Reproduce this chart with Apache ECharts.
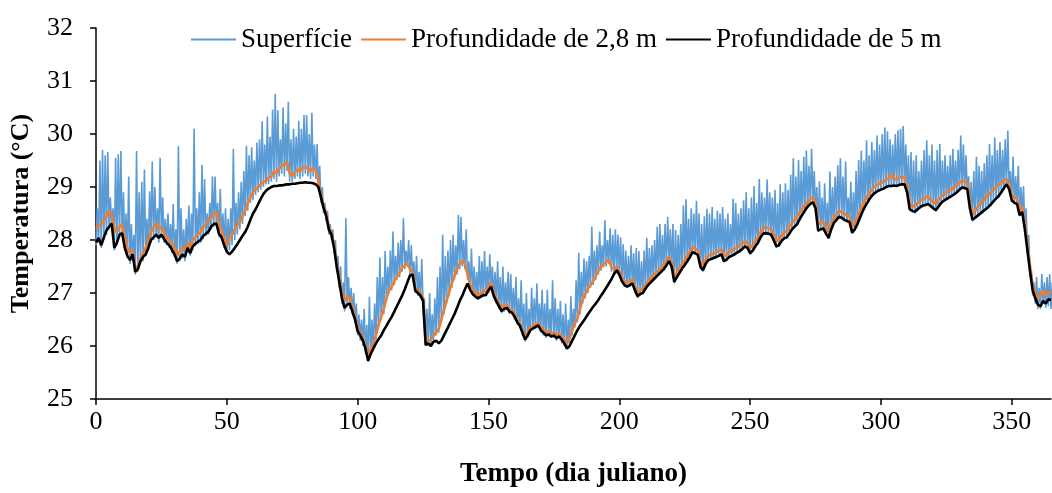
<!DOCTYPE html>
<html>
<head>
<meta charset="utf-8">
<script src="https://cdn.jsdelivr.net/npm/echarts@6/dist/echarts.min.js"></script>
<style>
html,body{margin:0;padding:0;background:#fff;}
#chart{width:1052px;height:493px;}
</style>
</head>
<body>
<div id="chart"></div>
<script>
// Julian day 0..365
const seriesNames = ['Superfície', 'Profundidade de 2,8 m', 'Profundidade de 5 m'];
const xTicks = [0, 50, 100, 150, 200, 250, 300, 350];

// Surface: daily low and daily high (spikes)
const surfaceLow = [
27.9,27.95,27.85,28.0,28.1,28.2,28.25,27.8,27.9,28.05,
28.05,27.8,27.65,27.55,27.65,27.35,27.4,27.55,27.6,27.7,
27.8,27.95,28.0,28.05,27.95,28.05,27.95,27.9,27.85,27.75,
27.68,27.55,27.6,27.65,27.6,27.8,27.7,27.82,27.88,27.92,
27.95,28.02,28.08,28.1,28.2,28.25,28.27,28.05,28.0,27.85,
27.75,27.8,27.9,28.0,28.1,28.2,28.3,28.45,28.55,28.7,
28.75,28.85,28.9,28.95,29.0,29.05,29.05,29.1,29.15,29.1,
29.2,29.25,29.2,29.3,29.1,29.1,29.15,29.2,29.15,29.2,
29.25,29.2,29.15,29.2,29.15,28.95,28.7,28.5,28.35,28.1,
28.0,27.75,27.4,27.1,26.8,26.65,26.75,26.7,26.6,26.45,
26.2,26.1,26.0,25.85,25.7,25.85,25.95,26.1,26.35,26.5,
26.6,26.85,27.0,27.05,27.15,27.25,27.3,27.4,27.45,27.5,
27.35,27.3,27.0,26.95,26.9,26.8,26.0,26.0,26.0,26.1,
26.2,26.25,26.45,26.6,26.8,26.95,27.1,27.25,27.35,27.45,
27.5,27.45,27.25,27.05,26.95,26.9,26.88,26.9,26.92,26.95,
27.0,27.1,26.9,26.8,26.7,26.62,26.65,26.68,26.6,26.6,
26.5,26.4,26.35,26.2,26.08,26.15,26.25,26.3,26.32,26.35,
26.25,26.2,26.15,26.18,26.15,26.15,26.1,26.15,26.05,26.0,
25.95,26.05,26.2,26.35,26.45,26.6,26.8,26.9,27.0,27.1,
27.15,27.25,27.35,27.42,27.48,27.5,27.55,27.4,27.38,27.42,
27.35,27.2,27.12,27.1,27.12,27.15,27.0,26.9,26.95,27.0,
27.05,27.12,27.18,27.22,27.28,27.32,27.38,27.42,27.5,27.58,
27.45,27.18,27.28,27.35,27.42,27.5,27.58,27.65,27.72,27.72,
27.68,27.45,27.4,27.5,27.6,27.62,27.63,27.65,27.68,27.7,
27.58,27.6,27.65,27.68,27.7,27.73,27.76,27.8,27.85,27.82,
27.72,27.78,27.85,27.92,28.02,28.1,28.1,28.1,28.08,27.98,
27.85,27.88,27.95,28.0,28.03,28.1,28.18,28.22,28.28,28.38,
28.45,28.52,28.6,28.65,28.68,28.55,28.15,28.18,28.2,28.1,
28.02,28.18,28.3,28.35,28.42,28.4,28.35,28.33,28.32,28.12,
28.18,28.28,28.4,28.52,28.62,28.7,28.78,28.84,28.88,28.92,
28.94,28.95,28.98,29.0,29.0,29.0,29.0,29.02,29.03,29.03,
28.88,28.55,28.52,28.5,28.55,28.6,28.62,28.64,28.66,28.62,
28.58,28.54,28.6,28.68,28.72,28.75,28.78,28.8,28.84,28.88,
28.92,28.96,28.95,28.94,28.58,28.35,28.4,28.44,28.48,28.52,
28.56,28.6,28.65,28.7,28.76,28.8,28.88,28.95,29.02,28.94,
28.72,28.68,28.65,28.45,28.5,28.15,27.75,27.3,26.95,26.8,
26.7,26.7,26.8,26.72,26.75,26.7
];
const surfaceHigh = [
28.6,29.5,29.7,29.6,29.66,28.8,28.6,29.55,29.62,29.68,
28.9,28.5,29.2,28.3,28.1,29.68,28.9,29.1,29.33,28.4,
28.92,29.48,29.0,28.6,29.55,28.8,28.4,28.5,28.3,28.68,
28.2,29.77,28.6,28.2,28.4,28.65,28.5,30.1,28.6,28.9,
29.42,29.15,28.5,28.7,29.2,29.2,28.7,28.96,28.5,28.6,
28.4,28.6,29.72,28.7,28.9,29.1,29.3,29.78,29.6,29.75,
29.5,29.84,29.9,30.24,29.8,30.33,29.95,30.46,30.76,30.45,
29.9,30.5,30.2,30.61,29.9,30.1,29.95,30.25,30.1,30.36,
30.36,30.0,30.4,29.8,29.81,29.4,29.0,28.7,28.55,28.3,
28.2,28.0,27.7,27.5,27.2,28.41,27.3,27.1,27.0,26.8,
26.6,26.5,26.7,26.4,26.93,26.5,26.8,27.3,27.67,27.3,
27.79,27.5,27.8,28.16,27.7,27.95,28.0,28.41,27.8,28.0,
27.9,27.6,27.7,27.4,27.64,26.9,26.7,27.0,26.6,26.9,
27.3,27.5,28.1,27.7,27.8,28.0,28.1,27.9,28.47,28.44,
28.0,28.2,27.6,27.84,27.5,27.4,27.7,27.6,27.79,27.5,
27.73,27.5,27.4,27.6,27.3,27.5,27.2,27.4,27.36,27.1,
27.3,26.9,27.24,26.8,27.0,26.7,27.1,26.9,27.18,26.8,
27.06,26.8,27.06,26.7,27.24,26.9,26.7,26.85,26.6,26.8,
26.5,26.94,26.7,27.24,27.76,27.4,27.65,27.6,27.7,28.25,
27.8,27.9,28.16,27.9,28.37,28.0,28.22,28.1,28.2,28.1,
28.05,27.92,27.8,27.7,27.9,27.75,27.85,27.79,27.6,27.8,
28.04,27.85,27.9,28.0,28.25,28.3,28.1,28.3,28.44,28.2,
28.3,28.19,28.1,28.3,28.65,28.77,28.4,28.6,28.5,28.74,
28.5,28.3,28.45,28.59,28.5,28.62,28.4,28.55,28.5,28.62,
28.4,28.5,28.3,28.78,28.7,28.5,28.6,28.75,28.9,28.6,
28.8,29.02,28.7,29.15,28.9,28.8,29.14,28.9,28.8,28.95,
28.7,29.05,28.9,29.07,28.95,29.23,29.54,29.2,29.51,29.3,
29.57,29.69,29.4,29.72,29.3,29.0,29.11,28.8,29.07,28.7,
29.29,29.0,29.2,29.41,29.54,29.2,29.48,28.8,29.1,28.9,
29.3,29.51,29.69,29.5,29.88,29.6,29.85,29.7,29.97,29.8,
30.0,30.12,30.05,29.9,29.8,30.0,30.07,30.1,30.15,29.8,
29.6,29.66,29.5,29.6,29.3,29.5,29.7,29.88,29.6,29.8,
29.5,29.7,29.81,29.5,29.6,29.4,29.6,29.72,29.5,29.7,
29.97,29.8,29.6,29.2,29.1,29.3,29.57,29.4,29.3,29.45,
29.6,29.81,29.6,29.94,29.7,29.85,29.7,29.9,30.06,29.3,
29.57,29.2,29.4,29.0,29.02,28.6,28.1,27.43,27.2,27.3,
27.1,27.36,27.2,27.3,27.36,27.2
];
// Depth 2.8 m
const depth28 = [
28.2,28.25,28.3,28.35,28.45,28.55,28.48,28.2,28.15,28.25,
28.3,28.05,27.85,27.75,27.8,27.5,27.45,27.65,27.75,27.85,
28.0,28.15,28.25,28.32,28.2,28.25,28.15,28.05,28.0,27.95,
27.85,27.7,27.78,27.85,27.8,27.95,27.85,28.0,28.05,28.1,
28.15,28.25,28.3,28.35,28.42,28.5,28.52,28.3,28.2,28.0,
27.9,28.05,28.1,28.2,28.28,28.35,28.45,28.55,28.7,28.8,
28.9,28.95,29.0,29.05,29.1,29.12,29.18,29.2,29.3,29.25,
29.35,29.4,29.42,29.48,29.25,29.2,29.28,29.33,29.3,29.36,
29.38,29.35,29.3,29.36,29.32,29.1,28.85,28.65,28.5,28.25,
28.12,27.9,27.55,27.3,27.0,26.85,26.95,26.9,26.72,26.55,
26.35,26.25,26.15,26.0,25.8,25.95,26.05,26.2,26.4,26.55,
26.7,26.9,27.05,27.12,27.22,27.3,27.38,27.48,27.52,27.56,
27.45,27.4,27.1,27.05,27.0,26.9,26.08,26.1,26.12,26.2,
26.25,26.32,26.5,26.68,26.85,27.02,27.18,27.32,27.45,27.55,
27.61,27.55,27.35,27.15,27.08,27.0,26.96,27.0,27.02,27.05,
27.12,27.2,27.0,26.9,26.8,26.72,26.76,26.78,26.7,26.68,
26.6,26.5,26.42,26.3,26.18,26.25,26.35,26.38,26.4,26.44,
26.36,26.3,26.25,26.28,26.24,26.25,26.2,26.24,26.18,26.12,
26.05,26.15,26.3,26.42,26.52,26.7,26.87,26.98,27.08,27.15,
27.22,27.32,27.42,27.5,27.55,27.58,27.63,27.48,27.45,27.5,
27.42,27.3,27.22,27.2,27.22,27.26,27.12,27.0,27.05,27.08,
27.15,27.22,27.28,27.33,27.38,27.42,27.48,27.53,27.6,27.68,
27.58,27.3,27.38,27.46,27.55,27.62,27.7,27.78,27.86,27.84,
27.8,27.58,27.52,27.63,27.7,27.72,27.75,27.77,27.8,27.83,
27.7,27.72,27.77,27.8,27.83,27.86,27.9,27.93,27.98,27.94,
27.85,27.9,27.98,28.05,28.15,28.22,28.25,28.22,28.2,28.1,
27.98,28.0,28.08,28.13,28.17,28.25,28.32,28.38,28.45,28.52,
28.6,28.66,28.72,28.78,28.8,28.7,28.3,28.32,28.35,28.22,
28.15,28.3,28.42,28.48,28.55,28.52,28.5,28.46,28.45,28.25,
28.32,28.42,28.55,28.66,28.76,28.84,28.92,28.98,29.02,29.05,
29.08,29.1,29.14,29.16,29.25,29.15,29.14,29.18,29.2,29.18,
29.0,28.7,28.65,28.63,28.7,28.74,28.77,28.8,28.82,28.76,
28.72,28.68,28.76,28.82,28.86,28.9,28.93,28.96,29.0,29.04,
29.08,29.12,29.1,29.08,28.7,28.48,28.55,28.62,28.68,28.74,
28.8,28.85,28.9,28.95,29.0,29.04,29.08,29.12,29.15,29.05,
28.85,28.8,28.78,28.58,28.62,28.3,27.9,27.5,27.15,27.0,
26.9,26.95,27.05,26.95,27.02,27.0
];
// Depth 5 m
const depth5 = [
27.95,28.04,27.9,28.05,28.18,28.25,28.31,27.85,27.95,28.1,
28.13,27.85,27.7,27.62,27.73,27.4,27.45,27.6,27.68,27.73,
27.85,28.0,28.05,28.1,28.04,28.1,28.02,27.95,27.9,27.82,
27.73,27.6,27.65,27.73,27.68,27.85,27.75,27.88,27.93,27.97,
28.0,28.08,28.12,28.16,28.25,28.3,28.31,28.12,28.05,27.9,
27.78,27.73,27.78,27.85,27.92,28.0,28.08,28.15,28.25,28.38,
28.5,28.58,28.68,28.78,28.87,28.93,28.97,29.0,29.02,29.02,
29.03,29.03,29.04,29.05,29.05,29.06,29.06,29.07,29.08,29.08,
29.09,29.08,29.08,29.07,29.05,29.0,28.8,28.6,28.45,28.2,
28.1,27.85,27.5,27.2,26.9,26.72,26.78,26.8,26.65,26.5,
26.28,26.2,26.1,25.95,25.72,25.85,25.95,26.05,26.13,26.2,
26.3,26.38,26.47,26.55,26.65,26.75,26.85,26.95,27.07,27.2,
27.33,27.35,27.05,27.0,26.95,26.85,26.02,26.05,26.0,26.08,
26.1,26.05,26.1,26.2,26.3,26.4,26.5,26.6,26.72,26.85,
26.95,27.07,27.18,27.06,26.98,26.93,26.9,26.93,26.96,26.96,
27.05,27.12,26.95,26.84,26.75,26.66,26.7,26.72,26.65,26.63,
26.55,26.45,26.38,26.25,26.12,26.2,26.3,26.33,26.36,26.39,
26.3,26.25,26.2,26.22,26.18,26.2,26.15,26.18,26.12,26.05,
25.95,26.0,26.1,26.2,26.3,26.38,26.45,26.52,26.6,26.67,
26.74,26.8,26.87,26.95,27.02,27.1,27.18,27.26,27.36,27.43,
27.35,27.22,27.15,27.12,27.15,27.18,27.05,26.94,26.98,27.0,
27.08,27.15,27.2,27.25,27.3,27.35,27.4,27.45,27.52,27.6,
27.5,27.21,27.3,27.38,27.46,27.53,27.6,27.68,27.77,27.75,
27.72,27.5,27.43,27.55,27.62,27.64,27.66,27.68,27.7,27.73,
27.6,27.63,27.68,27.7,27.73,27.76,27.79,27.83,27.88,27.85,
27.75,27.8,27.88,27.95,28.05,28.12,28.13,28.12,28.1,28.0,
27.88,27.9,27.98,28.03,28.05,28.12,28.2,28.25,28.3,28.4,
28.48,28.56,28.63,28.68,28.71,28.6,28.18,28.2,28.22,28.12,
28.04,28.2,28.32,28.38,28.44,28.42,28.38,28.36,28.34,28.14,
28.2,28.3,28.42,28.54,28.64,28.72,28.8,28.86,28.9,28.93,
28.95,28.97,29.0,29.02,29.02,29.03,29.02,29.04,29.05,29.05,
28.9,28.58,28.55,28.53,28.58,28.62,28.65,28.66,28.68,28.64,
28.6,28.56,28.63,28.7,28.74,28.77,28.8,28.83,28.86,28.9,
28.95,28.99,28.98,28.96,28.6,28.38,28.42,28.46,28.5,28.54,
28.58,28.62,28.67,28.73,28.78,28.83,28.9,28.98,29.05,28.96,
28.75,28.7,28.68,28.47,28.53,28.2,27.8,27.4,27.05,26.9,
26.78,26.75,26.85,26.8,26.88,26.87
];

// Build tables for the library
const surfaceData = [];
for (let d = 0; d < surfaceLow.length; d++) {
  surfaceData.push([d, surfaceLow[d]]);
  surfaceData.push([d + 0.5, surfaceHigh[d]]);
}
const d28Data = depth28.map((v, d) => [d, v]);
const d5Data = depth5.map((v, d) => [d, v]);

const FONT = '"Liberation Serif", "Times New Roman", serif';
const chart = echarts.init(document.getElementById('chart'), null, {renderer: 'canvas'});
chart.setOption({
  animation: false,
  backgroundColor: '#ffffff',
  grid: {left: 96, right: 1, top: 28, bottom: 85, containLabel: false},
  legend: {
    top: 21, left: 186,
    itemWidth: 45, itemHeight: 14, itemGap: 9,
    icon: 'path://M0,6 L44,6 L44,8 L0,8 Z',
    textStyle: {fontFamily: FONT, fontSize: 27, color: '#000'},
    data: seriesNames
  },
  xAxis: {
    type: 'value', min: 0, max: 365, interval: 50,
    name: 'Tempo (dia juliano)', nameLocation: 'middle', nameGap: 62,
    nameTextStyle: {fontFamily: FONT, fontSize: 27, fontWeight: 'bold', color: '#000'},
    axisLine: {show: true, lineStyle: {color: '#000', width: 1.5}},
    axisTick: {show: true, inside: false, length: 6, lineStyle: {color: '#000', width: 1.5}},
    axisLabel: {fontFamily: FONT, fontSize: 26, color: '#000', margin: 10, showMaxLabel: false,
      formatter: v => xTicks.indexOf(v) >= 0 ? String(v) : ''},
    splitLine: {show: false}
  },
  yAxis: {
    type: 'value', min: 25, max: 32, interval: 1,
    name: 'Temperatura (°C)', nameLocation: 'middle', nameGap: 62, nameRotate: 90,
    nameTextStyle: {fontFamily: FONT, fontSize: 26, fontWeight: 'bold', color: '#000'},
    axisLine: {show: true, lineStyle: {color: '#000', width: 1.5}},
    axisTick: {show: true, inside: false, length: 6, lineStyle: {color: '#000', width: 1.5}},
    axisLabel: {fontFamily: FONT, fontSize: 26, color: '#000', margin: 23},
    splitLine: {show: false}
  },
  series: [
    {name: seriesNames[0], type: 'line', data: surfaceData, showSymbol: false, symbol: 'none',
     color: '#5B9BD5', lineStyle: {color: '#5B9BD5', width: 1.6}, z: 1},
    {name: seriesNames[1], type: 'line', data: d28Data, showSymbol: false, symbol: 'none',
     color: '#ED7D31', lineStyle: {color: '#ED7D31', width: 2.6}, z: 2},
    {name: seriesNames[2], type: 'line', data: d5Data, showSymbol: false, symbol: 'none',
     color: '#000000', lineStyle: {color: '#000000', width: 2.6}, z: 3}
  ]
});
</script>
</body>
</html>
